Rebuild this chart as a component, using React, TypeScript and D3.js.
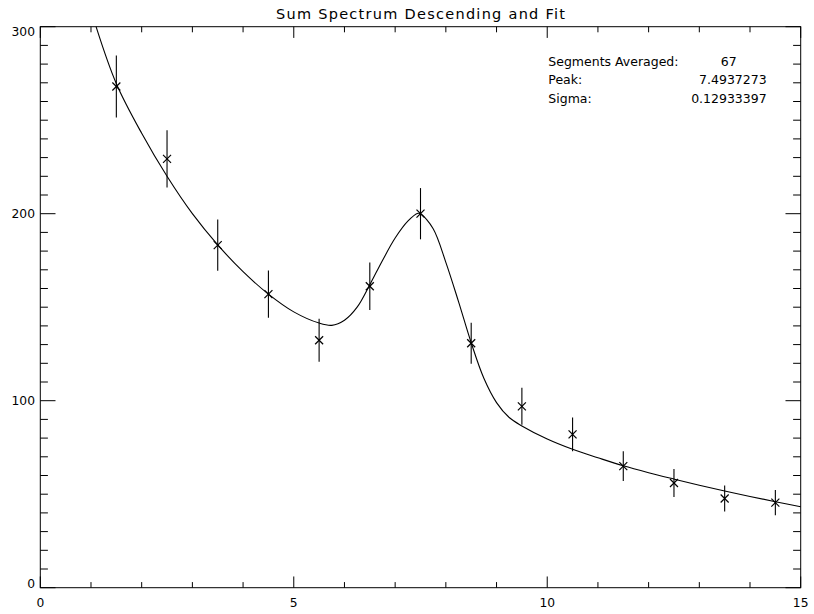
import React from "react";
import * as d3 from "d3";

const title = "Sum Spectrum Descending and Fit";

const pointX = [1.5, 2.5, 3.5, 4.5, 5.5, 6.5, 7.5, 8.5, 9.5, 10.5, 11.5, 12.5, 13.5, 14.5];
const pointY = [268, 229.3, 183.2, 157, 132.3, 161.2, 200, 130.7, 97, 82, 65, 56, 47.7, 45.5];
const pointErr = [16.6, 15.3, 13.7, 12.6, 11.5, 12.7, 13.7, 11, 9.9, 9, 8, 7.5, 6.9, 6.7];

const fitX = [1.1, 1.5, 2.0, 2.5, 3.0, 3.5, 4.0, 4.5, 5.0, 5.5, 5.75, 6.0, 6.25, 6.5, 6.75, 7.0, 7.25, 7.45, 7.5, 7.75, 8.0, 8.25, 8.5, 8.75, 9.0, 9.25, 9.5, 10.0, 10.5, 11.0, 11.5, 12.0, 12.5, 13.0, 13.5, 14.0, 14.5, 15.0];
const fitY = [300, 269.5, 243, 220, 200, 183.3, 169, 157, 147.5, 141.5, 140.3, 143, 150, 162, 175, 187, 196, 200.2, 200, 192, 174, 153, 131, 112, 99, 91, 86.5, 79.5, 74, 69.5, 65.2, 61.5, 58.1, 54.8, 51.7, 48.8, 46, 43.3];

const xMajorTicks = [0, 5, 10, 15];
const xMinorTicks = [1, 2, 3, 4, 6, 7, 8, 9, 11, 12, 13, 14];
const yMajorTicks = [0, 100, 200, 300];
const yMinorTicks = d3.range(10, 300, 10).filter((v) => v % 100 !== 0);

const labelRows = ["Segments Averaged:", "Peak:", "Sigma:"];
const labelValues = ["67", "7.4937273", "0.12933397"];

export default function App() {
  const W = 814, H = 614;
  const left = 40.3, right = 800.7, top = 26.7, bottom = 587.7;
  const x = d3.scaleLinear().domain([0, 15]).range([left, right]);
  const y = d3.scaleLinear().domain([0, 300]).range([bottom, top]);
  const plotH = bottom - top, plotW = right - left;
  const xMaj = 0.02 * plotH, xMin = xMaj / 2;
  const yMaj = 0.02 * plotW, yMin = yMaj / 2;

  const line = d3
    .line<number>()
    .x((_, i) => x(fitX[i]))
    .y((d) => y(d))
    .curve(d3.curveCatmullRom.alpha(0.5));

  const font = "DejaVu Sans, sans-serif";
  const ms = 4;

  return (
    <svg width={W} height={H} style={{ position: "absolute", left: 0, top: 0, background: "#fff" }}>
      <rect x={0} y={0} width={W} height={H} fill="#fff" />
      <text x={(left + right) / 2} y={19} textAnchor="middle" fontFamily={font} fontSize={14.5} textLength={289} lengthAdjust="spacing" fill="#000">
        {title}
      </text>
      {/* frame */}
      <rect x={left} y={top} width={plotW} height={plotH} fill="none" stroke="#000" strokeWidth={1} />
      {/* x ticks */}
      {xMajorTicks.map((t) => (
        <g key={"xm" + t}>
          <line x1={x(t)} x2={x(t)} y1={bottom} y2={bottom - xMaj} stroke="#000" />
          <line x1={x(t)} x2={x(t)} y1={top} y2={top + xMaj} stroke="#000" />
          <text x={x(t)} y={607.3} textAnchor="middle" fontFamily={font} fontSize={12.3} fill="#000">
            {t}
          </text>
        </g>
      ))}
      {xMinorTicks.map((t) => (
        <g key={"xn" + t}>
          <line x1={x(t)} x2={x(t)} y1={bottom} y2={bottom - xMin} stroke="#000" />
          <line x1={x(t)} x2={x(t)} y1={top} y2={top + xMin} stroke="#000" />
        </g>
      ))}
      {/* y ticks */}
      {yMajorTicks.map((t) => {
        const cy = Math.min(Math.max(y(t), top + 4.6), bottom - 4.5);
        return (
          <g key={"ym" + t}>
            <line x1={left} x2={left + yMaj} y1={y(t)} y2={y(t)} stroke="#000" />
            <line x1={right} x2={right - yMaj} y1={y(t)} y2={y(t)} stroke="#000" />
            <text x={35} y={cy + 4.5} textAnchor="end" fontFamily={font} fontSize={12.3} fill="#000">
              {t}
            </text>
          </g>
        );
      })}
      {yMinorTicks.map((t) => (
        <g key={"yn" + t}>
          <line x1={left} x2={left + yMin} y1={y(t)} y2={y(t)} stroke="#000" />
          <line x1={right} x2={right - yMin} y1={y(t)} y2={y(t)} stroke="#000" />
        </g>
      ))}
      {/* fit curve */}
      <path d={line(fitY) || ""} fill="none" stroke="#000" strokeWidth={1.1} />
      {/* data points */}
      {pointX.map((px, i) => {
        const cx = x(px), cy = y(pointY[i]);
        return (
          <g key={"p" + i}>
            <line x1={cx} x2={cx} y1={y(pointY[i] + pointErr[i])} y2={y(pointY[i] - pointErr[i])} stroke="#000" strokeWidth={1.1} />
            <line x1={cx - ms} x2={cx + ms} y1={cy - ms} y2={cy + ms} stroke="#000" strokeWidth={1.2} />
            <line x1={cx - ms} x2={cx + ms} y1={cy + ms} y2={cy - ms} stroke="#000" strokeWidth={1.2} />
          </g>
        );
      })}
      {/* annotations */}
      {labelRows.map((l, i) => (
        <text key={"l" + i} x={548.3} y={65.7 + i * 18.5} fontFamily={font} fontSize={12.5} fill="#000">
          {l}
        </text>
      ))}
      <text x={736.7} y={65.7} textAnchor="end" fontFamily={font} fontSize={12.5} fill="#000">
        {labelValues[0]}
      </text>
      <text x={766.7} y={65.7 + 18.5} textAnchor="end" fontFamily={font} fontSize={12.5} fill="#000">
        {labelValues[1]}
      </text>
      <text x={766.7} y={65.7 + 37} textAnchor="end" fontFamily={font} fontSize={12.5} fill="#000">
        {labelValues[2]}
      </text>
    </svg>
  );
}
